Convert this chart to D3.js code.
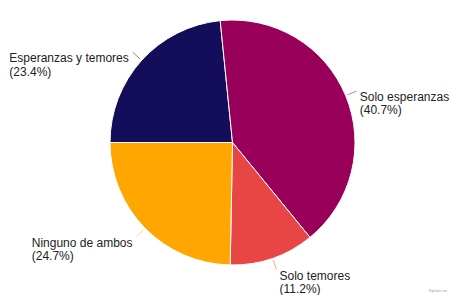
<!DOCTYPE html>
<html>
<head>
<meta charset="utf-8">
<script src="https://cdn.jsdelivr.net/npm/d3@7"></script>
<style>
  body { margin: 0; background: #fff; }
</style>
</head>
<body>
<div id="chart_root"></div>
<script>
// data, in the order the slices run clockwise from 9 o'clock
const categories = ["Esperanzas y temores", "Solo esperanzas", "Solo temores", "Ninguno de ambos"];
const values = [23.4, 40.7, 11.2, 24.7];
const labelTexts = ["(23.4%)", "(40.7%)", "(11.2%)", "(24.7%)"];
const colors = ["#140d5a", "#99005a", "#e84545", "#ffa600"];

const W = 451, H = 295;
const cx = 232.5, cy = 142.5, radius = 122.5;

const svg = d3.select("#chart_root")
    .append("svg")
    .attr("width", W)
    .attr("height", H)
    .style("font-family", "'Liberation Sans', Arial, Helvetica, sans-serif");

const g = svg.append("g")
    .attr("transform", "translate(" + cx + "," + cy + ")");

const pie = d3.pie()
    .sort(null)
    .startAngle(-Math.PI / 2)
    .endAngle(3 * Math.PI / 2)
    .value(d => d);

const arcs = pie(values);
const arc = d3.arc().innerRadius(0).outerRadius(radius);

g.selectAll("path.slice")
    .data(arcs)
    .enter()
    .append("path")
    .attr("class", "slice")
    .attr("d", arc)
    .attr("fill", (d, i) => colors[i])
    .attr("stroke", "#ffffff")
    .attr("stroke-width", 1)
    .attr("stroke-linejoin", "round");

// point at distance r along the middle of a slice
const polar = (a, r) => [r * Math.sin(a), -r * Math.cos(a)];

arcs.forEach((d, i) => {
    const mid = (d.startAngle + d.endAngle) / 2;
    const p0 = polar(mid, radius + 2);
    const p1 = polar(mid, radius + 12);
    const right = Math.sin(mid) > 0;

    g.append("line")
        .attr("x1", p0[0]).attr("y1", p0[1])
        .attr("x2", p1[0]).attr("y2", p1[1])
        .attr("stroke", colors[i])
        .attr("stroke-opacity", 0.5)
        .attr("stroke-width", 1);

    const label = g.append("text")
        .attr("font-size", 12)
        .attr("fill", "#222");
    label.append("tspan").attr("x", 0).attr("dy", 0).text(categories[i]);
    label.append("tspan").attr("x", 0).attr("dy", 13.2).text(labelTexts[i]);

    let bw = 0;
    label.selectAll("tspan").each(function() {
        bw = Math.max(bw, this.getComputedTextLength());
    });
    const lx = right ? p1[0] + 3 : p1[0] - 4 - bw;
    label.attr("transform", "translate(" + lx + "," + (p1[1] + 10.2) + ")");
});

svg.append("text")
    .attr("x", 447)
    .attr("y", 292)
    .attr("text-anchor", "end")
    .attr("font-size", 2.6)
    .attr("fill", "#999")
    .text("Highcharts.com");
</script>
</body>
</html>
